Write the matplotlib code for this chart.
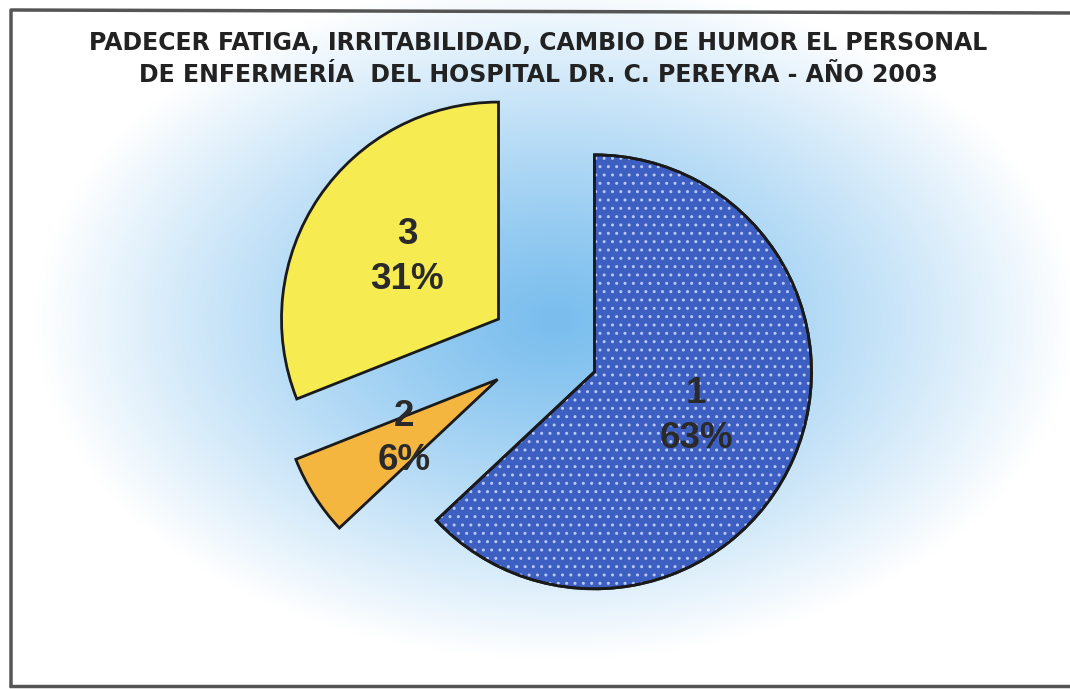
import numpy as np
import matplotlib
matplotlib.use('Agg')
import matplotlib.pyplot as plt
from matplotlib.patches import Wedge

# data
labels = ['1', '2', '3']
values = [63, 6, 31]
colors = ['#3d5fc2', '#f4b63f', '#f6ec52']

W, H = 1070, 689
fig = plt.figure(figsize=(W / 100, H / 100), dpi=100)
fig.patch.set_facecolor('white')

ax = fig.add_axes([0, 0, 1, 1])

# radial background gradient
xx, yy = np.meshgrid(np.arange(W), np.arange(H))
cx, cy = 555, H - 320
d = np.sqrt(((xx - cx) / 520.0) ** 2 + ((yy - cy) / 340.0) ** 2)
t = np.clip(d, 0, 1) ** 1.2
c0 = np.array([0x7a, 0xbe, 0xee]) / 255.0
c1 = np.array([1.0, 1.0, 1.0])
img = c0[None, None, :] * (1 - t[..., None]) + c1[None, None, :] * t[..., None]
ax.imshow(img, extent=[0, W, 0, H], origin='lower', zorder=0, aspect='auto')

# frame of the scanned chart
ax.plot([11, 11, W + 5], [H - 686, H - 10, H - 13], color='#555555', lw=2.5, zorder=1)
ax.plot([11, W], [H - 686, H - 686], color='#555555', lw=2.5, zorder=1)

R = 217
center = (544, H - 350)
wedges, texts, autotexts = ax.pie(
    values, colors=colors, startangle=90, counterclock=False,
    explode=[55] * 3, radius=R, center=center, frame=True,
    autopct='%1.0f%%', pctdistance=0.51,
    wedgeprops=dict(edgecolor='#1a1a1a', linewidth=2),
    textprops=dict(fontsize=26.5, fontweight='bold', color='#2a2a2a',
                   family='Liberation Sans'))
ax.set_xlim(0, W)
ax.set_ylim(0, H)
ax.set_aspect('auto')
ax.axis('off')

for lab, val, at in zip(labels, values, autotexts):
    at.set_text(f'{lab}\n{val}%')
    at.set_linespacing(1.35)

# dotted fill on the blue slice
w = wedges[0]
dots = Wedge(w.center, w.r, w.theta1, w.theta2, facecolor='none',
             edgecolor='#b8c8ff', hatch='..', linewidth=0, zorder=w.get_zorder())
ax.add_patch(dots)
outline = Wedge(w.center, w.r, w.theta1, w.theta2, facecolor='none',
                edgecolor='#1a1a1a', linewidth=2, zorder=w.get_zorder() + 0.1)
ax.add_patch(outline)
autotexts[0].set_zorder(5)

# title, two lines
title_lines = ['PADECER FATIGA, IRRITABILIDAD, CAMBIO DE HUMOR EL PERSONAL',
               'DE ENFERMERÍA  DEL HOSPITAL DR. C. PEREYRA - AÑO 2003']
for line, ypx in zip(title_lines, [43, 75]):
    fig.text(538 / W, 1 - ypx / H, line, ha='center', va='center',
             fontsize=17, fontweight='bold', color='#222222',
             family='DejaVu Sans')

fig.savefig('out.png', dpi=100)
